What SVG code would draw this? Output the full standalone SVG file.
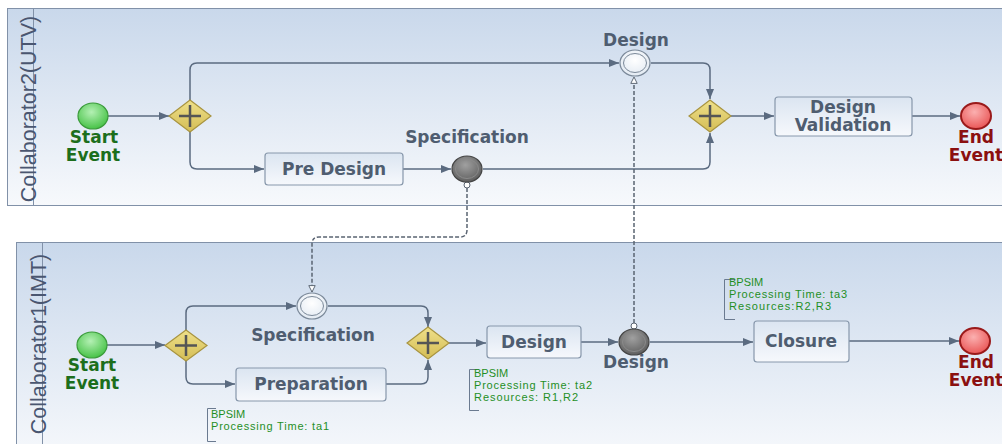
<svg xmlns="http://www.w3.org/2000/svg" width="1002" height="444" viewBox="0 0 1002 444">
<style>
.lbl{font-family:"DejaVu Sans",Verdana,sans-serif;font-weight:bold;font-size:17px;fill:#4f5d70;text-anchor:middle}
.lane{font-family:"Liberation Sans",Arial,sans-serif;font-size:21.5px;fill:#4a5670;text-anchor:middle}
.st{fill:#1c6e1c}
.en{fill:#8b1010}
.note{font-family:"Liberation Sans",Arial,sans-serif;font-size:11px;fill:#1f8f1f}
.pool{fill:url(#poolg);stroke:#8191a8;stroke-width:1}
.task{fill:url(#taskg);stroke:#8797ab;stroke-width:1.2}
.gw{fill:url(#gwg);stroke:#a89440;stroke-width:1.2}
.plus{stroke:#555;stroke-width:2.5;fill:none}
.flow{fill:none;stroke:#5b6b80;stroke-width:1.5;marker-end:url(#arr)}
.msg{fill:none;stroke:#5a6472;stroke-width:1.5;stroke-dasharray:4 2;marker-end:url(#oarr)}
.bracket{fill:none;stroke:#6a7a90;stroke-width:1}
</style>
<defs>
<linearGradient id="poolg" x1="0" y1="0" x2="0" y2="1"><stop offset="0" stop-color="#c9d8eb"/><stop offset="1" stop-color="#f7f9fc"/></linearGradient>
<linearGradient id="taskg" x1="0" y1="0" x2="0" y2="1"><stop offset="0" stop-color="#dbe5f1"/><stop offset="1" stop-color="#f6f8fc"/></linearGradient>
<linearGradient id="gwg" x1="0" y1="0" x2="0" y2="1"><stop offset="0" stop-color="#efe08a"/><stop offset="1" stop-color="#d4bd55"/></linearGradient>
<radialGradient id="startg" cx="0.45" cy="0.35" r="0.7"><stop offset="0" stop-color="#b4f0b4"/><stop offset="1" stop-color="#3fbf3f"/></radialGradient>
<radialGradient id="endg" cx="0.45" cy="0.35" r="0.7"><stop offset="0" stop-color="#fbb0b0"/><stop offset="1" stop-color="#e85050"/></radialGradient>
<radialGradient id="darkg" cx="0.45" cy="0.35" r="0.7"><stop offset="0" stop-color="#a0a0a0"/><stop offset="1" stop-color="#5a5a5a"/></radialGradient>
<radialGradient id="whiteg" cx="0.5" cy="0.4" r="0.7"><stop offset="0" stop-color="#ffffff"/><stop offset="1" stop-color="#dde6f0"/></radialGradient>
<marker id="arr" viewBox="0 0 10 8" refX="10" refY="4" markerWidth="10" markerHeight="8" markerUnits="userSpaceOnUse" orient="auto"><path d="M0,0 L10,4 L0,8 Z" fill="#5b6b80"/></marker>
<marker id="oarr" viewBox="0 0 10 10" refX="9" refY="5" markerWidth="8" markerHeight="8" markerUnits="userSpaceOnUse" orient="auto"><path d="M1,1 L9,5 L1,9 Z" fill="#fff" stroke="#5a6472" stroke-width="1.2"/></marker>
</defs>
<rect width="1002" height="444" fill="#ffffff"/>

<g id="pool-utv">
<rect class="pool" x="7.5" y="8.5" width="1000" height="197"/>
<line x1="33.5" y1="8.5" x2="33.5" y2="205.5" stroke="#8191a8"/>
<text class="lane" transform="translate(36,109) rotate(-90)">Collaborator2(UTV)</text>
</g>
<g id="pool-imt">
<rect class="pool" x="16.5" y="242.5" width="1000" height="220"/>
<line x1="42.5" y1="242.5" x2="42.5" y2="444" stroke="#8191a8"/>
<text class="lane" transform="translate(46,344) rotate(-90)">Collaborator1(IMT)</text>
</g>

<g id="connectors">
<path class="flow" d="M108,116 H169"/>
<path class="flow" d="M190,100 V70 Q190,63 197,63 H619"/>
<path class="flow" d="M190,132 V162 Q190,169 197,169 H264"/>
<path class="flow" d="M403,169 H451"/>
<path class="flow" d="M483,169 H703 Q710,169 710,162 V133"/>
<path class="flow" d="M651,63 H703 Q710,63 710,70 V99"/>
<path class="flow" d="M731,116 H774"/>
<path class="flow" d="M912,116 H960"/>

<path class="flow" d="M107,345 H165"/>
<path class="flow" d="M186,330 V313 Q186,306 193,306 H296"/>
<path class="flow" d="M186,361 V377 Q186,384 193,384 H235"/>
<path class="flow" d="M328,306 H421 Q428,306 428,313 V327"/>
<path class="flow" d="M386,384 H421 Q428,384 428,377 V360"/>
<path class="flow" d="M449,343 H486"/>
<path class="flow" d="M581,342 H618"/>
<path class="flow" d="M650,342 H753"/>
<path class="flow" d="M849,341 H959"/>

<circle cx="467" cy="185" r="3" fill="#fff" stroke="#5a6472" stroke-width="1"/>
<path class="msg" d="M467,188 V230 Q467,237 460,237 H319 Q312,237 312,244 V292"/>
<circle cx="634" cy="326" r="3" fill="#fff" stroke="#5a6472" stroke-width="1"/>
<path class="msg" d="M634,323 V77"/>
</g>

<g id="start-utv">
<ellipse cx="93" cy="116" rx="15" ry="13" fill="url(#startg)" stroke="#3a9a3a" stroke-width="1.2"/>
<text class="lbl st" x="94" y="143">Start</text>
<text class="lbl st" x="93" y="161">Event</text>
</g>
<g id="gw1-utv">
<path class="gw" d="M190,100 L211,116 L190,132 L169,116 Z"/>
<path class="plus" d="M179,116 H201 M190,105 V127"/>
</g>
<g id="design-event-utv">
<ellipse cx="635" cy="63" rx="15" ry="13" fill="url(#whiteg)" stroke="#7a8898" stroke-width="1.2"/>
<ellipse cx="635" cy="63" rx="11.5" ry="9.5" fill="none" stroke="#7a8898" stroke-width="1"/>
<text class="lbl" x="636" y="46">Design</text>
</g>
<g id="predesign">
<rect class="task" x="265" y="153" width="138" height="32" rx="3"/>
<text class="lbl" x="334" y="175">Pre Design</text>
</g>
<g id="spec-event-utv">
<ellipse cx="467" cy="169" rx="15" ry="13" fill="url(#darkg)" stroke="#444" stroke-width="1.2"/>
<ellipse cx="467" cy="169" rx="11.5" ry="9.5" fill="none" stroke="#8a8a8a" stroke-width="1"/>
<text class="lbl" x="467" y="143">Specification</text>
</g>
<g id="gw2-utv">
<path class="gw" d="M710,100 L731,116 L710,132 L689,116 Z"/>
<path class="plus" d="M699,116 H721 M710,105 V127"/>
</g>
<g id="design-validation">
<rect class="task" x="775" y="97" width="137" height="39" rx="3"/>
<text class="lbl" x="843" y="113">Design</text>
<text class="lbl" x="843" y="131">Validation</text>
</g>
<g id="end-utv">
<ellipse cx="976" cy="116" rx="15" ry="13" fill="url(#endg)" stroke="#9a1a1a" stroke-width="2"/>
<text class="lbl en" x="976" y="143">End</text>
<text class="lbl en" x="976" y="161">Event</text>
</g>

<g id="start-imt">
<ellipse cx="92" cy="345" rx="15" ry="13" fill="url(#startg)" stroke="#3a9a3a" stroke-width="1.2"/>
<text class="lbl st" x="92" y="371">Start</text>
<text class="lbl st" x="92" y="389">Event</text>
</g>
<g id="gw1-imt">
<path class="gw" d="M186,330 L207,345.5 L186,361 L165,345.5 Z"/>
<path class="plus" d="M175,345.5 H197 M186,335 V356"/>
</g>
<g id="spec-event-imt">
<ellipse cx="312" cy="306" rx="15" ry="13" fill="url(#whiteg)" stroke="#7a8898" stroke-width="1.2"/>
<ellipse cx="312" cy="306" rx="11.5" ry="9.5" fill="none" stroke="#7a8898" stroke-width="1"/>
<text class="lbl" x="313" y="341">Specification</text>
</g>
<g id="preparation">
<rect class="task" x="236" y="368" width="150" height="33" rx="3"/>
<text class="lbl" x="311" y="390">Preparation</text>
</g>
<g id="gw2-imt">
<path class="gw" d="M428,327 L449,343 L428,359 L407,343 Z"/>
<path class="plus" d="M417,343 H439 M428,332 V354"/>
</g>
<g id="design-task">
<rect class="task" x="487" y="326" width="94" height="32" rx="3"/>
<text class="lbl" x="534" y="348">Design</text>
</g>
<g id="design-event-imt">
<ellipse cx="634" cy="342" rx="15" ry="13" fill="url(#darkg)" stroke="#444" stroke-width="1.2"/>
<ellipse cx="634" cy="342" rx="11.5" ry="9.5" fill="none" stroke="#8a8a8a" stroke-width="1"/>
<text class="lbl" x="636" y="368">Design</text>
</g>
<g id="closure">
<rect class="task" x="754" y="321" width="95" height="41" rx="3"/>
<text class="lbl" x="801" y="347">Closure</text>
</g>
<g id="end-imt">
<ellipse cx="975" cy="341" rx="15" ry="13" fill="url(#endg)" stroke="#9a1a1a" stroke-width="2"/>
<text class="lbl en" x="976" y="368">End</text>
<text class="lbl en" x="976" y="386">Event</text>
</g>

<g id="note-ta1">
<path class="bracket" d="M216,408.5 H207.5 V441.5 H216"/>
<text class="note" x="211" y="418">BPSIM</text>
<text class="note" x="211" y="430" textLength="118" lengthAdjust="spacing">Processing Time: ta1</text>
</g>
<g id="note-ta2">
<path class="bracket" d="M479,369.5 H469.5 V410.5 H479"/>
<text class="note" x="474" y="377">BPSIM</text>
<text class="note" x="474" y="389" textLength="118" lengthAdjust="spacing">Processing Time: ta2</text>
<text class="note" x="474" y="401" textLength="104" lengthAdjust="spacing">Resources: R1,R2</text>
</g>
<g id="note-ta3">
<path class="bracket" d="M735,279.5 H724.5 V319.5 H735"/>
<text class="note" x="729" y="286">BPSIM</text>
<text class="note" x="729" y="298" textLength="118" lengthAdjust="spacing">Processing Time: ta3</text>
<text class="note" x="729" y="310" textLength="102" lengthAdjust="spacing">Resources:R2,R3</text>
</g>
</svg>
